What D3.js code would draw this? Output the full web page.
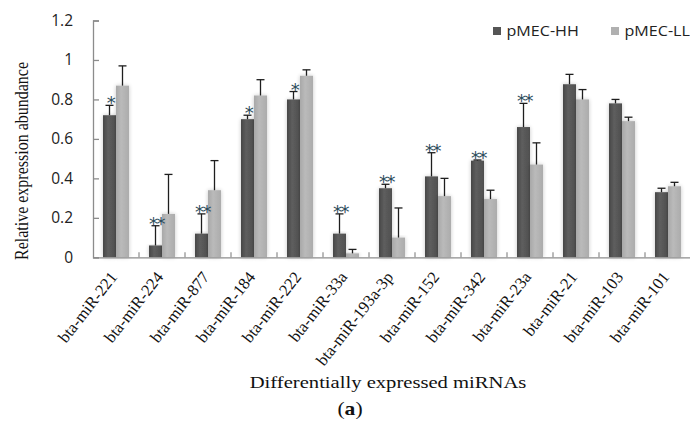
<!DOCTYPE html>
<html>
<head>
<meta charset="utf-8">
<script src="https://cdn.jsdelivr.net/npm/d3@7"></script>
<style>
  body { margin: 0; background: #fff; }
  svg { display: block; }
</style>
</head>
<body>
<div id="chart"></div>
<script>
// values
const mirnas = ['bta-miR-221', 'bta-miR-224', 'bta-miR-877', 'bta-miR-184', 'bta-miR-222', 'bta-miR-33a',
  'bta-miR-193a-3p', 'bta-miR-152', 'bta-miR-342', 'bta-miR-23a', 'bta-miR-21', 'bta-miR-103', 'bta-miR-101'];
const seriesNames = ['pMEC-HH', 'pMEC-LL'];
const hh = [0.72, 0.06, 0.12, 0.70, 0.80, 0.12, 0.35, 0.41, 0.49, 0.66, 0.877, 0.78, 0.33];
const hhErr = [0.05, 0.10, 0.10, 0.02, 0.04, 0.10, 0.02, 0.12, 0.003, 0.12, 0.05, 0.02, 0.02];
const ll = [0.87, 0.22, 0.34, 0.82, 0.92, 0.02, 0.10, 0.31, 0.295, 0.47, 0.80, 0.69, 0.36];
const llErr = [0.10, 0.20, 0.15, 0.08, 0.03, 0.02, 0.15, 0.09, 0.045, 0.11, 0.05, 0.02, 0.02];
const stars = ['*', '**', '**', '*', '*', '**', '**', '**', '**', '**', '', '', ''];
const yTicks = [0, 0.2, 0.4, 0.6, 0.8, 1, 1.2];

const width = 690, height = 423;
const margin = {left: 93, right: -1, top: 20.5, bottom: 165.7};

const svg = d3.select('#chart').append('svg')
  .attr('width', width)
  .attr('height', height);

const defs = svg.append('defs');
const gradDark = defs.append('linearGradient').attr('id', 'gDark');
gradDark.append('stop').attr('offset', '0%').attr('stop-color', '#474747');
gradDark.append('stop').attr('offset', '40%').attr('stop-color', '#5e5e5e');
gradDark.append('stop').attr('offset', '100%').attr('stop-color', '#4f4f4f');
const gradLight = defs.append('linearGradient').attr('id', 'gLight');
gradLight.append('stop').attr('offset', '0%').attr('stop-color', '#a8a8a8');
gradLight.append('stop').attr('offset', '40%').attr('stop-color', '#bababa');
gradLight.append('stop').attr('offset', '100%').attr('stop-color', '#acacac');
const shadow = defs.append('filter').attr('id', 'soft')
  .attr('x', '-40%').attr('y', '-10%').attr('width', '180%').attr('height', '120%');
shadow.append('feGaussianBlur').attr('in', 'SourceAlpha').attr('stdDeviation', 2).attr('result', 'b');
shadow.append('feComponentTransfer').attr('in', 'b').attr('result', 'c')
  .append('feFuncA').attr('type', 'linear').attr('slope', 0.22);
const merge = shadow.append('feMerge');
merge.append('feMergeNode').attr('in', 'c');
merge.append('feMergeNode').attr('in', 'SourceGraphic');

const x = d3.scaleBand()
  .domain(mirnas)
  .range([margin.left, width - margin.right])
  .paddingInner(0)
  .paddingOuter(0);
const inner = d3.scaleBand()
  .domain(seriesNames)
  .range([0, x.bandwidth()])
  .paddingOuter(0.77)
  .paddingInner(0);
const y = d3.scaleLinear()
  .domain([0, 1.2])
  .range([height - margin.bottom, margin.top]);

const rows = mirnas.map((m, i) => ({
  name: m,
  star: stars[i],
  vals: [
    {s: seriesNames[0], v: hh[i], e: hhErr[i]},
    {s: seriesNames[1], v: ll[i], e: llErr[i]}
  ]
}));

const groups = svg.append('g')
  .selectAll('g')
  .data(rows)
  .join('g')
  .attr('transform', d => `translate(${x(d.name)},0)`);

groups.selectAll('rect')
  .data(d => d.vals)
  .join('rect')
  .attr('x', d => inner(d.s))
  .attr('width', inner.bandwidth())
  .attr('y', d => y(d.v))
  .attr('height', d => y(0) - y(d.v))
  .attr('fill', d => d.s === seriesNames[0] ? 'url(#gDark)' : 'url(#gLight)')
  .attr('filter', 'url(#soft)');

// upper error whiskers
const whisk = groups.selectAll('g.err')
  .data(d => d.vals)
  .join('g')
  .attr('class', 'err')
  .attr('stroke', '#1e1e1e')
  .attr('stroke-width', 1.3);
whisk.append('line')
  .attr('x1', d => inner(d.s) + inner.bandwidth() / 2)
  .attr('x2', d => inner(d.s) + inner.bandwidth() / 2)
  .attr('y1', d => y(d.v))
  .attr('y2', d => y(d.v + d.e));
whisk.append('line')
  .attr('x1', d => inner(d.s) + inner.bandwidth() / 2 - 4)
  .attr('x2', d => inner(d.s) + inner.bandwidth() / 2 + 4)
  .attr('y1', d => y(d.v + d.e))
  .attr('y2', d => y(d.v + d.e));

// significance marks over the HH bar
groups.append('text')
  .attr('x', inner(seriesNames[0]) + inner.bandwidth() / 2 + 1)
  .attr('y', d => y(d.vals[0].v + d.vals[0].e) + 4)
  .attr('text-anchor', 'middle')
  .attr('font-family', 'DejaVu Sans, sans-serif')
  .attr('font-size', 18)
  .attr('fill', '#2d4d5c')
  .attr('letter-spacing', -1.5)
  .text(d => d.star);

// axes
const yAxis = d3.axisLeft(y)
  .tickValues(yTicks)
  .tickSize(-6)
  .tickPadding(20)
  .tickFormat(d => d3.format('~g')(d));
const gy = svg.append('g')
  .attr('transform', `translate(${margin.left},0)`)
  .call(yAxis);
gy.select('.domain').attr('stroke', '#8c8c8c').attr('stroke-width', 1.3);
gy.selectAll('.tick line').attr('stroke', '#8c8c8c').attr('stroke-width', 1.3);
gy.selectAll('.tick text')
  .attr('font-family', 'Open Sans, sans-serif')
  .attr('font-size', 15.5)
  .attr('fill', '#222');

const gx = svg.append('g')
  .attr('transform', `translate(0,${y(0)})`)
  .call(d3.axisBottom(x).tickSize(0).tickFormat(''));
gx.select('.domain').attr('stroke', '#8c8c8c').attr('stroke-width', 1.3);
gx.selectAll('.tick').remove();
gx.selectAll('line.sep')
  .data(mirnas.slice(1))
  .join('line')
  .attr('class', 'sep')
  .attr('x1', d => x(d)).attr('x2', d => x(d))
  .attr('y1', 0).attr('y2', -5)
  .attr('stroke', '#8c8c8c').attr('stroke-width', 1.2);

svg.append('g')
  .selectAll('text')
  .data(mirnas)
  .join('text')
  .attr('transform', d => `translate(${x(d) + x.bandwidth() / 2 + 2},${y(0) + 20}) rotate(-52)`)
  .attr('text-anchor', 'end')
  .attr('font-family', 'Liberation Serif, serif')
  .attr('font-size', 16.5)
  .attr('fill', '#111')
  .text(d => d);

// titles
svg.append('text')
  .attr('transform', 'translate(28,161) rotate(-90) scale(1,1.15)')
  .attr('text-anchor', 'middle')
  .attr('font-family', 'Liberation Serif, serif')
  .attr('font-size', 16)
  .attr('fill', '#111')
  .text('Relative expression abundance');

svg.append('text')
  .attr('transform', 'translate(388,388) scale(1.25,1)')
  .attr('text-anchor', 'middle')
  .attr('font-family', 'Liberation Serif, serif')
  .attr('font-size', 16.5)
  .attr('fill', '#111')
  .text('Differentially expressed miRNAs');

const cap = svg.append('text')
  .attr('transform', 'translate(350,415) scale(1.2,1)')
  .attr('text-anchor', 'middle')
  .attr('font-family', 'Liberation Serif, serif')
  .attr('font-size', 18)
  .attr('fill', '#111');
cap.append('tspan').text('(');
cap.append('tspan').attr('font-weight', 'bold').text('a');
cap.append('tspan').text(')');

// legend
const legend = svg.append('g')
  .selectAll('g')
  .data(seriesNames)
  .join('g')
  .attr('transform', (d, i) => `translate(${493 + i * 118},27)`);
legend.append('rect')
  .attr('width', 8).attr('height', 8)
  .attr('fill', (d, i) => i === 0 ? '#555' : '#b0b0b0');
legend.append('text')
  .attr('transform', 'translate(13.5,8.5) scale(1.15,1)')
  .attr('font-family', 'Open Sans, sans-serif')
  .attr('font-size', 14)
  .attr('fill', '#222')
  .text(d => d);
</script>
</body>
</html>
